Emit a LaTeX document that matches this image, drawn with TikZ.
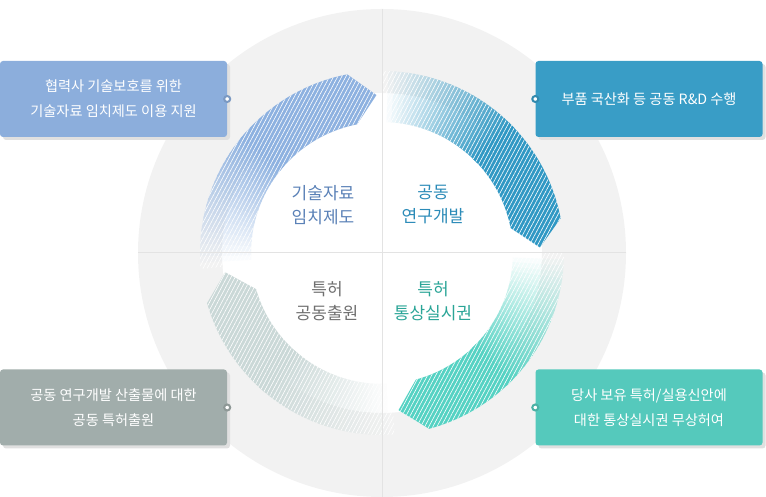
\documentclass[tikz,border=0pt]{standalone}
\usepackage{fontspec}
\setmainfont{Noto Sans CJK KR}
\usepackage{xcolor}
\usetikzlibrary{positioning,patterns.meta,shadows,backgrounds,calc}
\pgfdeclarelayer{edgelayer}
\pgfdeclarelayer{nodelayer}
\pgfsetlayers{background,edgelayer,nodelayer,main}
\definecolor{bgring}{HTML}{F2F2F2}
\definecolor{axisgray}{HTML}{E3E3E3}
\definecolor{arcTL}{HTML}{8DB1E0}
\definecolor{arcTR}{HTML}{3098C4}
\definecolor{arcBR}{HTML}{55D2C3}
\definecolor{arcBL}{HTML}{CAD8D7}
\definecolor{boxTL}{HTML}{8CAEDC}
\definecolor{boxTR}{HTML}{399DC6}
\definecolor{boxBR}{HTML}{55C9BC}
\definecolor{boxBL}{HTML}{A1ADAB}
\definecolor{txtTL}{HTML}{5A81B7}
\definecolor{txtTR}{HTML}{2B8BB8}
\definecolor{txtBR}{HTML}{2AA597}
\definecolor{txtBL}{HTML}{6F6F6F}
\tikzstyle{none}=[inner sep=0mm]
\tikzstyle{axis line}=[axisgray,line width=1pt]
\tikzstyle{box}=[rounded corners=3pt,minimum width=227pt,minimum height=76pt,inner sep=0pt,text=white,align=center,font=\fontsize{14.2}{25}\selectfont,drop shadow={shadow xshift=3pt,shadow yshift=-3pt,opacity=1,fill=black!12}]
\tikzstyle{hub text}=[align=center,inner sep=0pt,font=\fontsize{17}{24}\selectfont]
\tikzstyle{hatch}=[pattern={Lines[angle=62,distance=3.6pt,line width=0.6pt]},pattern color=white,fill opacity=0.32]
\tikzset{
	dotc/.style={circle,fill=white,draw=#1!88!black,line width=2pt,minimum size=6pt,inner sep=0pt}
}

\begin{document}
\begin{tikzpicture}[x=1pt,y=1pt]
	\useasboundingbox (0,0) rectangle (766,497);
	\begin{pgfonlayer}{background}
		\fill[bgring] (382,244) circle (244);
		\fill[white] (382,244) circle (160);
		\begin{scope}[shift={(382,244)}]
			% four arcs, faded at the start, arrow tip at the end
			\foreach \s/\e/\col in {185/101/arcTL, 90/11/arcTR, 0/-75/arcBR, -86/-164/arcBL}{
				\foreach \i in {0,...,22}{
					\pgfmathsetmacro\angA{\s-2*\i}
					\pgfmathsetmacro\angB{\angA-2.6}
					\pgfmathtruncatemacro\p{100*\i/22}
					\fill[\col!\p!white] (\angA:131) arc[start angle=\angA,end angle=\angB,radius=131] -- (\angB:160) arc[start angle=\angB,end angle=\angA,radius=160] -- cycle;
					\fill[\col!\p!bgring] (\angA:160) arc[start angle=\angA,end angle=\angB,radius=160] -- (\angB:182) arc[start angle=\angB,end angle=\angA,radius=182] -- cycle;
				}
				\pgfmathsetmacro\m{\s-44}
				\pgfmathsetmacro\tp{\e-9}
				\fill[\col] (\m:131) -- (\m:182) arc[start angle=\m,end angle=\e,radius=182] -- (\tp:158) -- (\e:131) arc[start angle=\e,end angle=\m,radius=131] -- cycle;
				\path[hatch] (\s:131) -- (\s:182) arc[start angle=\s,end angle=\e,radius=182] -- (\tp:158) -- (\e:131) arc[start angle=\e,end angle=\s,radius=131] -- cycle;
			}
		\end{scope}
	\end{pgfonlayer}
	\begin{pgfonlayer}{edgelayer}
		\coordinate (n) at (382,488);
		\coordinate (s) at (382,0);
		\coordinate (w) at (138,244);
		\coordinate (e) at (626,244);
		\draw[axis line] (n) -- (s);
		\draw[axis line] (w) -- (e);
	\end{pgfonlayer}
	\begin{pgfonlayer}{nodelayer}
		\node [style=box,fill=boxTL] (tl) at (113.5,398) {협력사 기술보호를 위한\\기술자료 임치제도 이용 지원};
		\node [style=box,fill=boxTR] (tr) at (649,398) {부품 국산화 등 공동 R\&D 수행};
		\node [style=box,fill=boxBL] (bl) at (113.5,89.5) {공동 연구개발 산출물에 대한\\공동 특허출원};
		\node [style=box,fill=boxBR] (br) at (649,89.5) {당사 보유 특허/실용신안에\\대한 통상실시권 무상허여};
		\node [dotc=boxTL] (tldot) at (tl.east) {};
		\node [dotc=boxTR] (trdot) at (tr.west) {};
		\node [dotc=boxBL] (bldot) at (bl.east) {};
		\node [dotc=boxBR] (brdot) at (br.west) {};
		\node [style=hub text,text=txtTL] (hubtl) at (323,292) {기술자료\\임치제도};
		\node [style=hub text,text=txtTR] (hubtr) at (433,292) {공동\\연구개발};
		\node [style=hub text,text=txtBL] (hubbl) at (327,196) {특허\\공동출원};
		\node [style=hub text,text=txtBR] (hubbr) at (433,196) {특허\\통상실시권};
	\end{pgfonlayer}
\end{tikzpicture}
\end{document}
